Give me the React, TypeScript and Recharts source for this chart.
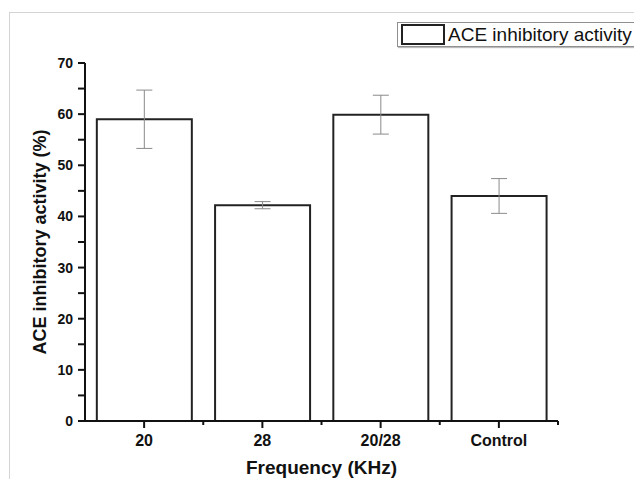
import React from "react";
import { BarChart, Bar, XAxis, YAxis, ErrorBar, Label } from "recharts";

const categories = ["20", "28", "20/28", "Control"];
const aceValues = [59.0, 42.2, 59.9, 44.0];
const aceErrors = [5.7, 0.7, 3.8, 3.4];
const yTicks = [0, 5, 10, 15, 20, 25, 30, 35, 40, 45, 50, 55, 60, 65, 70];

const data = categories.map((name, i) => ({ name, value: aceValues[i], err: aceErrors[i] }));

const FONT = "'Liberation Sans', Arial, sans-serif";

// labels only on the tens, the minor ticks keep just their tick line
function YTick(props: any) {
  const { x, y, payload } = props;
  const v = Number(payload.value);
  if (v % 10 !== 0) return <g />;
  return (
    <text x={Number(x)} y={Number(y)} dy="0.36em" textAnchor="end" fontFamily={FONT} fontWeight="bold" fontSize={14} fill="#111">
      {v}
    </text>
  );
}

// category label plus a short tick on the right edge of each band
function XTick(props: any) {
  const { x, y, payload } = props;
  const cx = Number(x);
  const ty = Number(y);
  const axisY = ty - 14;
  const off = Number(payload.offset ?? 0);
  return (
    <g>
      <path d={`M${cx + off},${axisY}V${axisY + 4}`} stroke="#111" strokeWidth={2} fill="none" />
      <text x={cx} y={ty} dy="0.71em" textAnchor="middle" fontFamily={FONT} fontWeight="bold" fontSize={16} fill="#111">
        {payload.value}
      </text>
    </g>
  );
}

export default function App() {
  return (
    <div style={{ position: "absolute", left: 0, top: 0, width: 634, height: 479, background: "#fff", overflow: "hidden" }}>
      <div
        style={{
          position: "absolute",
          left: 9,
          top: 12,
          width: 640,
          height: 480,
          borderLeft: "1px solid #d4d4d4",
          borderTop: "1px solid #d4d4d4",
        }}
      />
      <BarChart
        width={634}
        height={479}
        data={data}
        margin={{ top: 63, right: 76, left: 0, bottom: 0 }}
        barCategoryGap="10%"
        style={{ position: "absolute", left: 0, top: 0 }}
      >
        <XAxis
          dataKey="name"
          height={58}
          tickSize={7}
          tickMargin={7}
          tickLine={{ stroke: "#111", strokeWidth: 2 }}
          axisLine={{ stroke: "#111", strokeWidth: 2 }}
          tick={<XTick />}
          interval={0}
        >
          <Label value="Frequency (KHz)" position="insideBottom" offset={5} fontFamily={FONT} fontWeight="bold" fontSize={19} fill="#111" />
        </XAxis>
        <YAxis
          width={85}
          domain={[0, 70]}
          ticks={yTicks}
          interval={0}
          tickSize={7}
          tickMargin={5}
          tickLine={{ stroke: "#111", strokeWidth: 2 }}
          axisLine={{ stroke: "#111", strokeWidth: 2 }}
          tick={<YTick />}
        >
          <Label
            value="ACE inhibitory activity (%)"
            angle={-90}
            position="insideLeft"
            offset={40}
            textAnchor="middle"
            fontFamily={FONT}
            fontWeight="bold"
            fontSize={18}
            fill="#111"
          />
        </YAxis>
        <Bar dataKey="value" fill="#fff" stroke="#222" strokeWidth={2} isAnimationActive={false}>
          <ErrorBar dataKey="err" width={8} stroke="#8a8a8a" strokeWidth={1} isAnimationActive={false} />
        </Bar>
      </BarChart>
      <div
        style={{
          position: "absolute",
          left: 397,
          top: 22,
          width: 260,
          height: 23,
          border: "1px solid #8f8f8f",
          background: "#fff",
          boxShadow: "1px 1px 1px #bbb",
        }}
      >
        <div
          style={{
            position: "absolute",
            left: 3,
            top: 1,
            width: 40,
            height: 17,
            border: "2px solid #222",
            background: "#fff",
          }}
        />
        <span
          style={{
            position: "absolute",
            left: 50,
            top: 0,
            lineHeight: "23px",
            fontFamily: FONT,
            fontSize: 19,
            color: "#111",
            whiteSpace: "nowrap",
          }}
        >
          ACE inhibitory activity
        </span>
      </div>
    </div>
  );
}
